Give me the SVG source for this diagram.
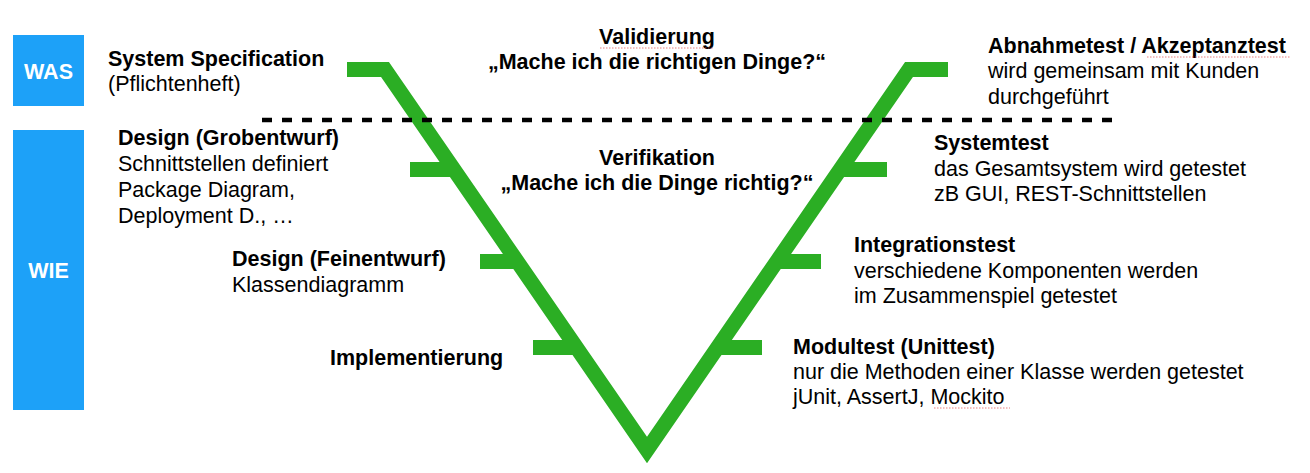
<svg xmlns="http://www.w3.org/2000/svg" width="1310" height="473" viewBox="0 0 1310 473">
  <style>
    text { font-family: "Liberation Sans", Arial, Helvetica, sans-serif; font-size: 21.5px; fill: #000; }
    .b { font-weight: bold; }
    .c { text-anchor: middle; }
    .w { fill: #fff; font-weight: bold; text-anchor: middle; }
    .box { fill: #1DA1F8; }
    .v { fill: none; stroke: #2BAE24; stroke-width: 15; stroke-linejoin: miter; }
    .tick { stroke: #2BAE24; stroke-width: 15; }
    .sep { stroke: #000; stroke-width: 4.5; stroke-dasharray: 10 10; }
    .spell { stroke: #E04848; stroke-width: 1; stroke-dasharray: 1.5 1.5; opacity: 0.7; }
  </style>
  <rect width="1310" height="473" fill="#fff"/>

  <g id="was">
    <rect class="box" x="13" y="35" width="71" height="71"/>
    <text class="w" x="48.5" y="78.5">WAS</text>
  </g>
  <g id="wie">
    <rect class="box" x="13" y="130" width="71" height="280"/>
    <text class="w" x="48.5" y="277.5">WIE</text>
  </g>

  <g id="connectors">
    <polyline class="v" points="347,69.5 385,69.5 647,450 909,69.5 948,69.5"/>
    <line class="tick" x1="410" y1="169.5" x2="455" y2="169.5"/>
    <line class="tick" x1="480" y1="261.5" x2="518" y2="261.5"/>
    <line class="tick" x1="533" y1="347.5" x2="577" y2="347.5"/>
    <line class="tick" x1="839" y1="169.5" x2="887" y2="169.5"/>
    <line class="tick" x1="776" y1="261.5" x2="821" y2="261.5"/>
    <line class="tick" x1="717" y1="347.5" x2="762" y2="347.5"/>
    <line class="sep" x1="262" y1="120" x2="1122" y2="120"/>
  </g>

  <g id="system-specification">
    <text class="b" x="108" y="66">System Specification</text>
    <text x="108" y="91">(Pflichtenheft)</text>
  </g>
  <g id="design-grob">
    <text class="b" x="118" y="145">Design (Grobentwurf)</text>
    <text x="118" y="171">Schnittstellen definiert</text>
    <text x="118" y="197">Package Diagram,</text>
    <text x="118" y="223">Deployment D., …</text>
  </g>
  <g id="design-fein">
    <text class="b" x="232" y="266">Design (Feinentwurf)</text>
    <text x="232" y="291.5">Klassendiagramm</text>
  </g>
  <g id="implementierung">
    <text class="b" x="330" y="365">Implementierung</text>
  </g>
  <g id="validierung">
    <text class="b c" x="657" y="43.5">Validierung</text>
    <text class="b c" x="657" y="69">„Mache ich die richtigen Dinge?“</text>
    <line class="spell" x1="600" y1="48" x2="713" y2="48"/>
  </g>
  <g id="verifikation">
    <text class="b c" x="657" y="165">Verifikation</text>
    <text class="b c" x="657" y="190">„Mache ich die Dinge richtig?“</text>
  </g>
  <g id="abnahmetest">
    <text class="b" x="988" y="52.5">Abnahmetest / Akzeptanztest</text>
    <text x="988" y="78">wird gemeinsam mit Kunden</text>
    <text x="988" y="103.5">durchgeführt</text>
    <line class="spell" x1="1147" y1="57" x2="1290" y2="57"/>
  </g>
  <g id="systemtest">
    <text class="b" x="934" y="150">Systemtest</text>
    <text x="934" y="175.5">das Gesamtsystem wird getestet</text>
    <text x="934" y="201">zB GUI, REST-Schnittstellen</text>
  </g>
  <g id="integrationstest">
    <text class="b" x="854" y="252">Integrationstest</text>
    <text x="854" y="277.5">verschiedene Komponenten werden</text>
    <text x="854" y="303">im Zusammenspiel getestet</text>
  </g>
  <g id="modultest">
    <text class="b" x="793" y="353.5">Modultest (Unittest)</text>
    <text x="793" y="378.5">nur die Methoden einer Klasse werden getestet</text>
    <text x="793" y="404">jUnit, AssertJ, Mockito</text>
    <line class="spell" x1="934" y1="408" x2="1010" y2="408"/>
  </g>
</svg>
